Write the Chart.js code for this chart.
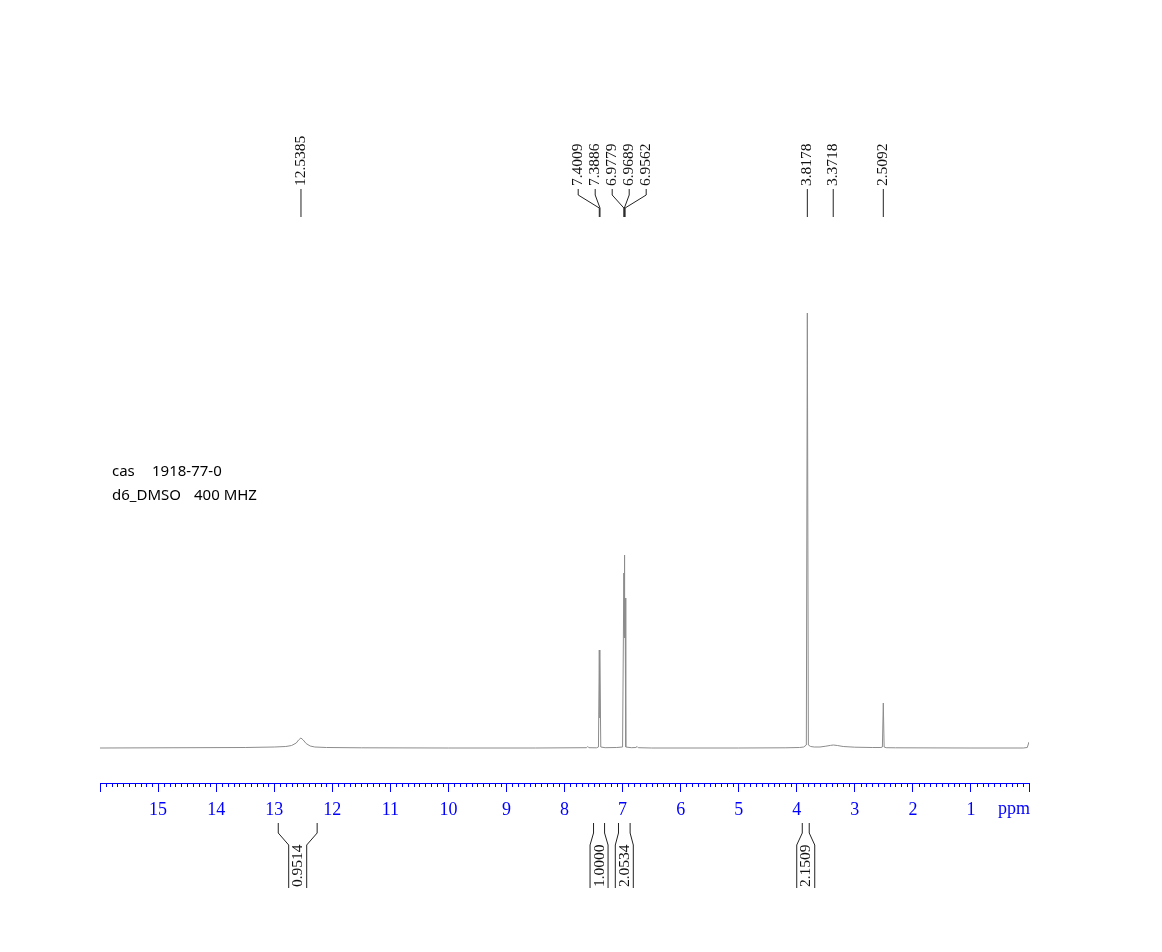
<!DOCTYPE html>
<html><head><meta charset="utf-8">
<script src="https://cdn.jsdelivr.net/npm/chart.js@4.4.1/dist/chart.umd.min.js"></script>
<style>html,body{margin:0;padding:0;background:#fff;}canvas{display:block;}</style>
</head><body>
<canvas id="c" width="1162" height="952"></canvas>
<script>
// ---- data ----
const ppm = [16.0, 13.5, 13.0, 12.8, 12.7, 12.62, 12.58, 12.54, 12.5, 12.45, 12.38, 12.3, 12.1, 11.5, 10.0, 8.5,
  7.62, 7.6, 7.58, 7.45, 7.415, 7.4009, 7.395, 7.3886, 7.375, 7.3, 7.1, 7.0,
  6.9779, 6.973, 6.9689, 6.962, 6.9562, 6.945, 6.85, 6.77, 6.75, 6.73, 6.5, 5.0, 4.2,
  3.95, 3.88, 3.835, 3.8178, 3.80, 3.76, 3.70, 3.6, 3.5, 3.42, 3.37, 3.3, 3.2, 3.0, 2.7,
  2.55, 2.525, 2.5092, 2.495, 2.46, 2.3, 1.0, 0.1, 0.03, 0.0];
const intensity = [0, 0.5, 1, 1.5, 2.5, 5, 8, 10, 8, 4.5, 2, 1, 0.5, 0.2, 0, 0,
  0.3, 1.5, 0.3, 0.2, 1, 98, 30, 92, 1, 0.3, 0.5, 1,
  175, 120, 193, 110, 150, 1, 0.3, 0.5, 1.5, 0.3, 0, 0, 0.2,
  0.5, 1, 3, 435, 3, 1.5, 1, 1, 1.8, 2.6, 3, 2.5, 1.5, 0.8, 0.5,
  0.5, 1, 45, 1, 0.3, 0.2, 0, 0, 0.5, 6];
const axisTicks = [0, 1, 2, 3, 4, 5, 6, 7, 8, 9, 10, 11, 12, 13, 14, 15, 16];
const tickLabels = ['', '1', '2', '3', '4', '5', '6', '7', '8', '9', '10', '11', '12', '13', '14', '15', ''];
const peakLabels = [12.5385, 7.4009, 7.3886, 6.9779, 6.9689, 6.9562, 3.8178, 3.3718, 2.5092];
const integralFrom = [12.93, 7.50, 7.07, 3.905];
const integralTo = [12.26, 7.31, 6.87, 3.785];
const integralValues = ['0.9514', '1.0000', '2.0534', '2.1509'];
const infoLine1 = ['cas', '1918-77-0'];
const infoLine2 = ['d6_DMSO', '400 MHZ'];
const unitLabel = 'ppm';

const points = ppm.map((p, i) => ({x: p, y: intensity[i]}));
const BLUE = 'rgb(0,0,255)';

const annot = {
  id: 'annot',
  afterDraw(chart) {
    const ctx = chart.ctx, xs = chart.scales.x, area = chart.chartArea;
    ctx.save();
    // minor ticks
    ctx.strokeStyle = BLUE; ctx.lineWidth = 1;
    ctx.beginPath();
    for (let i = 1; i < 160; i++) {
      if (i % 10 === 0) continue;
      const px = Math.round(xs.getPixelForValue(i / 10)) + 0.5;
      ctx.moveTo(px, area.bottom); ctx.lineTo(px, area.bottom + 4);
    }
    ctx.stroke();
    // unit label
    ctx.fillStyle = BLUE;
    ctx.font = '18px "Liberation Serif"';
    ctx.textAlign = 'right'; ctx.textBaseline = 'alphabetic';
    ctx.fillText(unitLabel, area.right + 1, 814);

    // peak labels
    const gap = 17;
    const pk = peakLabels.map(v => ({v, px: xs.getPixelForValue(v)})).sort((a, b) => a.px - b.px);
    let groups = pk.map(p => ({items: [p]}));
    const lay = g => { const n = g.items.length; const c = (g.items[0].px + g.items[n - 1].px) / 2; g.start = c - (n - 1) / 2 * gap; g.end = g.start + (n - 1) * gap; };
    groups.forEach(lay);
    let merged = true;
    while (merged) {
      merged = false;
      for (let i = 0; i < groups.length - 1; i++) {
        if (groups[i + 1].start - groups[i].end < gap) {
          groups[i].items = groups[i].items.concat(groups[i + 1].items);
          groups.splice(i + 1, 1); lay(groups[i]); merged = true; break;
        }
      }
    }
    ctx.strokeStyle = '#222'; ctx.fillStyle = '#111';
    ctx.font = '15.5px "Liberation Serif"';
    groups.forEach(g => {
      g.items.forEach((it, k) => {
        const lx = g.start + k * gap;
        ctx.beginPath();
        ctx.moveTo(lx, 189); ctx.lineTo(lx, 195); ctx.lineTo(it.px, 208); ctx.lineTo(it.px, 217);
        ctx.stroke();
        ctx.save();
        ctx.translate(lx, 186); ctx.rotate(-Math.PI / 2);
        ctx.textAlign = 'left'; ctx.textBaseline = 'middle';
        ctx.fillText(it.v.toFixed(4), 0, 0);
        ctx.restore();
      });
    });

    // integrals
    integralValues.forEach((val, i) => {
      const x1 = xs.getPixelForValue(integralFrom[i]), x2 = xs.getPixelForValue(integralTo[i]);
      const c = (x1 + x2) / 2, hw = 9;
      ctx.beginPath();
      ctx.moveTo(x1, 823); ctx.lineTo(x1, 833); ctx.lineTo(c - hw, 845); ctx.lineTo(c - hw, 888);
      ctx.moveTo(x2, 823); ctx.lineTo(x2, 833); ctx.lineTo(c + hw, 845); ctx.lineTo(c + hw, 888);
      ctx.stroke();
      ctx.save();
      ctx.translate(c + 0.5, 887); ctx.rotate(-Math.PI / 2);
      ctx.textAlign = 'left'; ctx.textBaseline = 'middle';
      ctx.fillText(val, 0, 0);
      ctx.restore();
    });

    // sample info
    ctx.fillStyle = '#000';
    ctx.font = '15px "Noto Sans"';
    ctx.textAlign = 'left'; ctx.textBaseline = 'alphabetic';
    ctx.fillText(infoLine1[0], 112, 476);
    ctx.fillText(infoLine1[1], 152, 476);
    ctx.fillText(infoLine2[0], 112, 500);
    ctx.fillText(infoLine2[1], 194, 500);
    ctx.restore();
  }
};

new Chart(document.getElementById('c'), {
  type: 'line',
  data: { datasets: [{
    data: points,
    borderColor: 'rgb(140,140,140)',
    borderWidth: 1,
    pointRadius: 0,
    tension: 0,
    fill: false
  }]},
  options: {
    responsive: false,
    animation: false,
    devicePixelRatio: 1,
    layout: { padding: { left: 100, right: 133, top: 48, bottom: 129 } },
    plugins: { legend: { display: false }, tooltip: { enabled: false } },
    scales: {
      x: {
        type: 'linear', reverse: true, min: 0, max: 16,
        afterBuildTicks: s => { s.ticks = axisTicks.map(v => ({value: v})); },
        afterFit: s => { s.height = 40; },
        ticks: {
          autoSkip: false, maxRotation: 0, padding: 7, color: BLUE,
          font: { family: 'Liberation Serif', size: 18 },
          callback: (v) => tickLabels[axisTicks.indexOf(v)] ?? ''
        },
        grid: { drawOnChartArea: false, tickLength: 9, color: BLUE, tickColor: BLUE },
        border: { color: BLUE, width: 1 }
      },
      y: { display: false, min: -35, max: 700 }
    }
  },
  plugins: [annot]
});
</script>
</body></html>
